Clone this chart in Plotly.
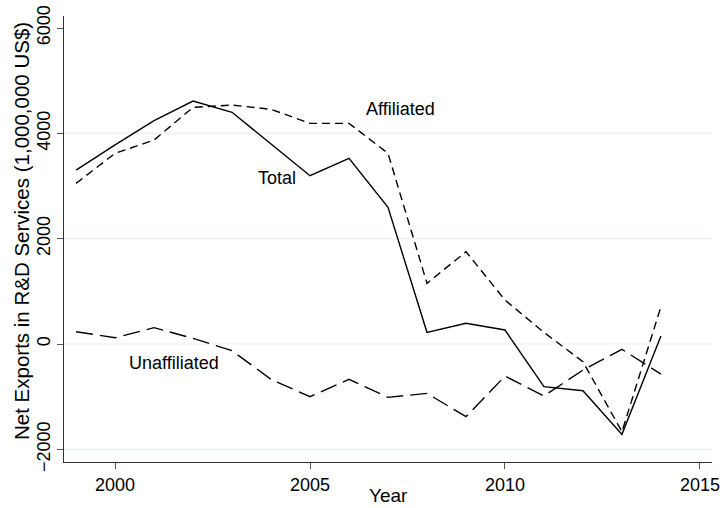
import plotly.graph_objects as go

# Net exports in R&D services, millions of US$
years = list(range(1999, 2015))
total = [3300, 3780, 4240, 4614, 4400, 3800, 3196, 3525, 2595, 222, 393, 266, -810, -886, -1715, 152]
affiliated = [3051, 3620, 3873, 4494, 4538, 4456, 4190, 4190, 3620, 1152, 1753, 835, 220, -336, -1665, 709]
unaffiliated = [234, 120, 310, 108, -127, -671, -1000, -671, -1013, -937, -1380, -608, -987, -494, -101, -570]

x_ticks = [2000, 2005, 2010, 2015]
y_ticks = [-2000, 0, 2000, 4000, 6000]
grid_levels = [-2000, 0, 2000, 4000]

# series labels placed next to their lines: (text, year, value)
series_labels = [
    ("Affiliated", 2007.31, 4462),
    ("Total", 2004.15, 3152),
    ("Unaffiliated", 2001.5, -355),
]

FONT = "Liberation Sans, Arial, sans-serif"
INK = "#000000"
W, H = 720, 508
ML, MR, MT, MB = 64, 8, 16, 46

fig = go.Figure()
fig.add_trace(go.Scatter(x=years, y=total, mode="lines", name="Total",
                         line=dict(color=INK, width=1.4)))
fig.add_trace(go.Scatter(x=years, y=affiliated, mode="lines", name="Affiliated",
                         line=dict(color=INK, width=1.4, dash="8px,5px")))
fig.add_trace(go.Scatter(x=years, y=unaffiliated, mode="lines", name="Unaffiliated",
                         line=dict(color=INK, width=1.4, dash="17px,7px")))

for lvl in grid_levels:
    fig.add_shape(type="line", xref="paper", yref="y", x0=0, x1=1, y0=lvl, y1=lvl,
                  line=dict(color="#eaf2f3", width=1.2), layer="below")

for text, xv, yv in series_labels:
    fig.add_annotation(x=xv, y=yv, text=text, showarrow=False,
                       xanchor="center", yanchor="middle",
                       font=dict(family=FONT, size=18, color=INK))

# axis titles
plot_w = W - ML - MR
plot_h = H - MT - MB
fig.add_annotation(text="Year", xref="paper", yref="paper",
                   x=(388 - ML) / plot_w, y=-(495 - (H - MB)) / plot_h,
                   xanchor="center", yanchor="middle", borderpad=0,
                   showarrow=False, font=dict(family=FONT, size=19, color=INK))
fig.add_annotation(text="Net Exports in R&D Services (1,000,000 US$)", xref="paper", yref="paper",
                   x=-(ML - 22) / plot_w, y=1 - (231 - MT) / plot_h, textangle=-90,
                   xanchor="center", yanchor="middle",
                   showarrow=False, font=dict(family=FONT, size=20.5, color=INK))

fig.update_layout(
    width=W, height=H,
    margin=dict(l=ML, r=MR, t=MT, b=MB),
    paper_bgcolor="white", plot_bgcolor="white",
    showlegend=False,
    font=dict(family=FONT, size=18, color=INK),
)
fig.update_xaxes(
    range=[1998.69, 2015.31], tickvals=x_ticks, showgrid=False, zeroline=False,
    showline=True, linecolor="#333333", linewidth=1.2, automargin=False,
    ticks="outside", ticklen=6, tickcolor="#555555", tickwidth=1,
    tickfont=dict(family=FONT, size=18, color=INK),
)
fig.update_yaxes(
    range=[-2240, 6228], tickvals=y_ticks, showgrid=False, zeroline=False,
    showline=True, linecolor="#333333", linewidth=1.2, automargin=False,
    ticks="outside", ticklen=6, tickcolor="#555555", tickwidth=1,
    tickangle=-90,
    tickfont=dict(family=FONT, size=18, color=INK),
)

fig.write_html("out.html")
